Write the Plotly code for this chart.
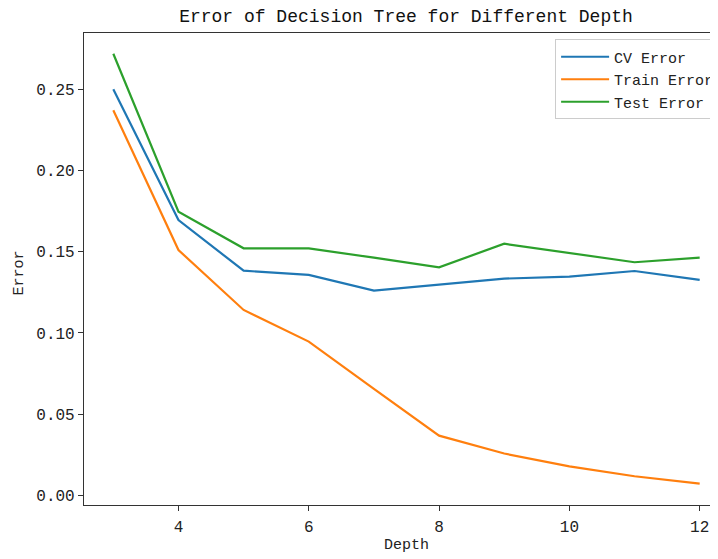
import plotly.graph_objects as go

depth = [3, 4, 5, 6, 7, 8, 9, 10, 11, 12]
cv_error = [0.2502, 0.1696, 0.1384, 0.1358, 0.1261, 0.1296, 0.1335, 0.1347, 0.1382, 0.1327]
train_error = [0.2373, 0.1511, 0.1142, 0.0947, 0.0655, 0.0367, 0.0257, 0.0178, 0.0117, 0.0072]
test_error = [0.2721, 0.1747, 0.1522, 0.1522, 0.1464, 0.1405, 0.1550, 0.1491, 0.1436, 0.1464]
series_names = ["CV Error", "Train Error", "Test Error"]

y_ticks = [0.00, 0.05, 0.10, 0.15, 0.20, 0.25]
y_tick_labels = ["0.00", "0.05", "0.10", "0.15", "0.20", "0.25"]
x_ticks = [4, 6, 8, 10, 12]

FONT = "Liberation Mono, DejaVu Sans Mono, monospace"

fig = go.Figure()
for name, vals, color in zip(series_names, [cv_error, train_error, test_error],
                             ["#1f77b4", "#ff7f0e", "#2ca02c"]):
    fig.add_trace(go.Scatter(x=depth, y=vals, mode="lines", name=name,
                             line=dict(color=color, width=2.2)))

# page body adds an 8px offset; figure coords = reference coords - 8.
# The reference image is cropped on the right: the axes box ends at ~729px,
# beyond the 718px window, so the figure is made wider than the window.
OFF = 8
W, H = 740, 559 - OFF
L, T = 83.6 - OFF, 32.5 - OFF
R = W - (729 - OFF)
B = H - (505.5 - OFF)
PW, PH = W - L - R, H - T - B


def px_x(x):
    return (x - OFF - L) / PW


def px_y(y):
    return (H - B - (y - OFF)) / PH


fig.update_layout(
    width=W, height=H,
    margin=dict(l=L, r=R, t=T, b=B, pad=0, autoexpand=False),
    plot_bgcolor="white", paper_bgcolor="white",
    font=dict(family=FONT, size=15, color="#222222"),
    showlegend=True,
    legend=dict(x=px_x(555), y=px_y(39), xanchor="left", yanchor="top",
                bordercolor="#cccccc", borderwidth=1,
                bgcolor="rgba(255,255,255,0.8)",
                itemwidth=48,
                font=dict(family=FONT, size=15, color="#222222"),
                tracegroupgap=0),
    title=dict(text="Error of Decision Tree for Different Depth",
               xref="container", x=(406 - OFF) / W, xanchor="center",
               yref="container", y=1 - (16 - OFF) / H, yanchor="middle",
               font=dict(family=FONT, size=18, color="#111111")),
    xaxis=dict(range=[2.55, 12.45], tickvals=x_ticks,
               showgrid=False, zeroline=False,
               showline=True, mirror=True, linecolor="#333333", linewidth=1.2,
               ticks="outside", ticklen=5, tickwidth=1.2,
               tickcolor="#333333", tickfont=dict(size=16),
               ticklabelstandoff=2),
    yaxis=dict(range=[-0.00603, 0.2849], tickvals=y_ticks, ticktext=y_tick_labels,
               showgrid=False, zeroline=False,
               showline=True, mirror=True, linecolor="#333333", linewidth=1.2,
               ticks="outside", ticklen=5, tickwidth=1.2,
               tickcolor="#333333", tickfont=dict(size=16)),
)

fig.add_annotation(text="Depth", xref="paper", yref="paper",
                   x=px_x(406), y=px_y(546),
                   xanchor="center", yanchor="middle", showarrow=False,
                   font=dict(family=FONT, size=15, color="#222222"))
fig.add_annotation(text="Error", xref="paper", yref="paper",
                   x=px_x(20), y=px_y(273), textangle=-90,
                   xanchor="center", yanchor="middle", showarrow=False,
                   font=dict(family=FONT, size=15, color="#222222"))

fig.write_html("out.html")
